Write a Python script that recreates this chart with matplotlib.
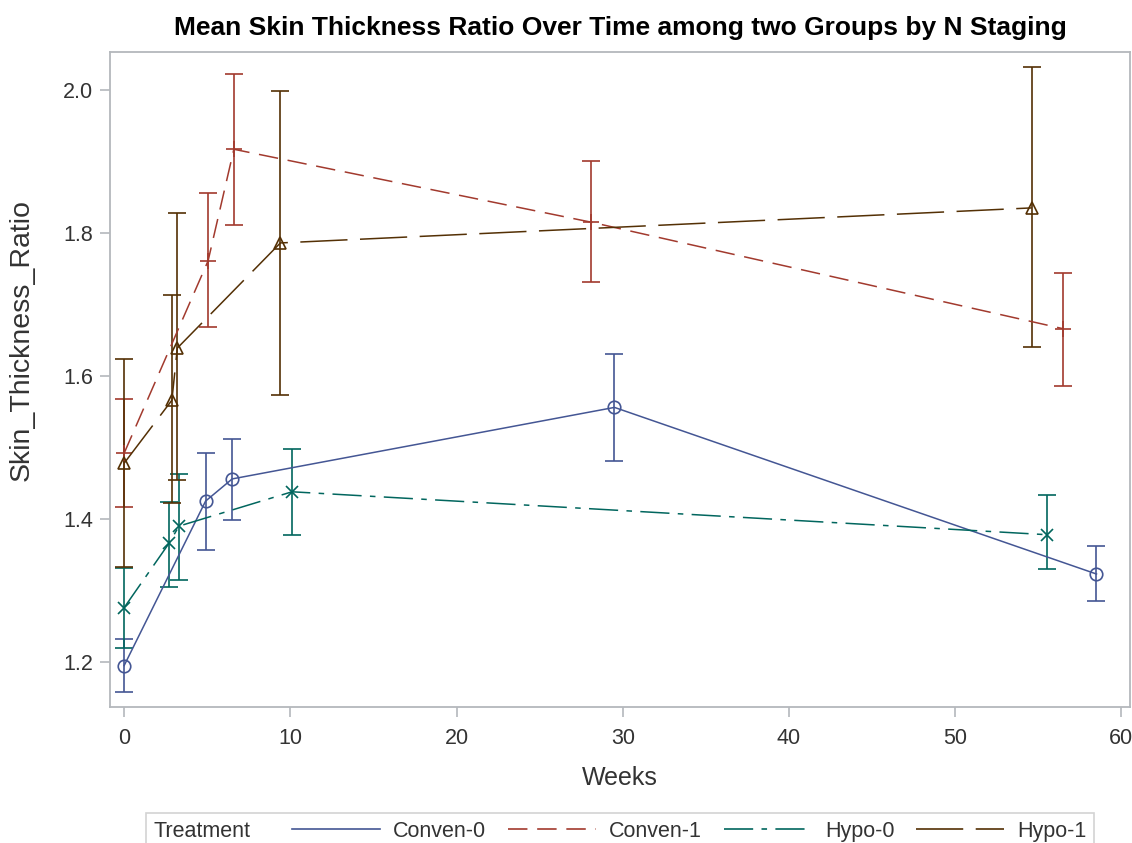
import matplotlib.pyplot as plt
from matplotlib.lines import Line2D
from matplotlib.offsetbox import HPacker

plt.rcParams['font.family'] = ['Liberation Sans', 'DejaVu Sans']
plt.rcParams['lines.scale_dashes'] = False

groups = ['Conven-0', 'Conven-1', 'Hypo-0', 'Hypo-1']

conven0_weeks = [0, 4.9, 6.5, 29.5, 58.5]
conven0_mean = [1.195, 1.425, 1.456, 1.556, 1.323]
conven0_low = [1.158, 1.357, 1.398, 1.481, 1.285]
conven0_high = [1.232, 1.492, 1.512, 1.630, 1.362]

conven1_weeks = [0, 5.05, 6.6, 28.1, 56.5]
conven1_mean = [1.492, 1.761, 1.917, 1.815, 1.666]
conven1_low = [1.417, 1.668, 1.811, 1.731, 1.586]
conven1_high = [1.568, 1.856, 2.022, 1.900, 1.744]

hypo0_weeks = [0, 2.7, 3.3, 10.1, 55.5]
hypo0_mean = [1.276, 1.366, 1.390, 1.438, 1.378]
hypo0_low = [1.220, 1.305, 1.315, 1.377, 1.330]
hypo0_high = [1.331, 1.424, 1.463, 1.498, 1.434]

hypo1_weeks = [0, 2.87, 3.2, 9.4, 54.6]
hypo1_mean = [1.478, 1.566, 1.639, 1.786, 1.835]
hypo1_low = [1.333, 1.423, 1.454, 1.573, 1.640]
hypo1_high = [1.624, 1.713, 1.828, 1.999, 2.032]

series = [
    (conven0_weeks, conven0_mean, conven0_low, conven0_high),
    (conven1_weeks, conven1_mean, conven1_low, conven1_high),
    (hypo0_weeks, hypo0_mean, hypo0_low, hypo0_high),
    (hypo1_weeks, hypo1_mean, hypo1_low, hypo1_high),
]
colors = ['#445694', '#A23A2E', '#01665E', '#543005']
styles = ['-', (0, (14, 7)), (0, (21, 6, 4, 6)), (0, (34, 9))]
markers = ['o', '+', 'x', '^']
msizes = [9, 11, 8, 8]

fig = plt.figure(figsize=(11.32, 8.43), dpi=100)
ax = fig.add_axes([0.0972, 0.1613, 0.9008, 0.777])

for (wk, mn, lo, hi), c, ls, mk, ms in zip(series, colors, styles, markers, msizes):
    yerr = [[m - l for m, l in zip(mn, lo)], [h - m for h, m in zip(hi, mn)]]
    ax.errorbar(wk, mn, yerr=yerr, color=c, ls=ls, lw=1.1, marker=mk, ms=ms,
                mfc='none', mec=c, mew=1.2, capsize=6.5, capthick=1.2, elinewidth=1.2)

ax.set_xlim(-0.85, 60.5)
ax.set_ylim(1.137, 2.053)
ax.set_xticks(range(0, 61, 10))
ax.set_yticks([1.2, 1.4, 1.6, 1.8, 2.0])
ax.set_yticklabels(['1.2', '1.4', '1.6', '1.8', '2.0'])

for s in ax.spines.values():
    s.set_color('#B4B8BC')
    s.set_linewidth(1.3)
ax.tick_params(colors='#B4B8BC', labelcolor='#333333', labelsize=15.5, length=7, width=1.2, pad=5)
ax.tick_params(axis='x', pad=8)

ax.set_xlabel('Weeks', fontsize=18, color='#333333', labelpad=12)
ax.set_ylabel('Skin_Thickness_Ratio', fontsize=20.5, color='#333333')
ax.yaxis.set_label_coords(-0.074, 0.56)
ax.set_title('Mean Skin Thickness Ratio Over Time among two Groups by N Staging',
             fontsize=19, fontweight='bold', pad=12)

handles = [Line2D([], [], color=c, ls=ls, lw=1.2) for c, ls in zip(colors, styles)]
leg = ax.legend(handles, groups, loc='upper center', bbox_to_anchor=(0.5, -0.1618),
                ncol=4, fontsize=15.5, title='Treatment', title_fontsize=15.5,
                frameon=True, fancybox=False, edgecolor='#C8C8C8',
                handlelength=4.1, handletextpad=0.6, columnspacing=1.0,
                borderpad=0.35, borderaxespad=0)
leg.get_frame().set_linewidth(1.2)
for t in leg.get_texts():
    t.set_color('#333333')
leg.get_title().set_color('#333333')
old = leg._legend_box
leg._legend_box = HPacker(pad=old.pad, sep=30, align='center', children=old.get_children())
leg._legend_box.set_figure(fig)
leg._legend_box.axes = ax
leg._legend_box.set_offset(leg._findoffset)

fig.savefig('out.png', dpi=100)
